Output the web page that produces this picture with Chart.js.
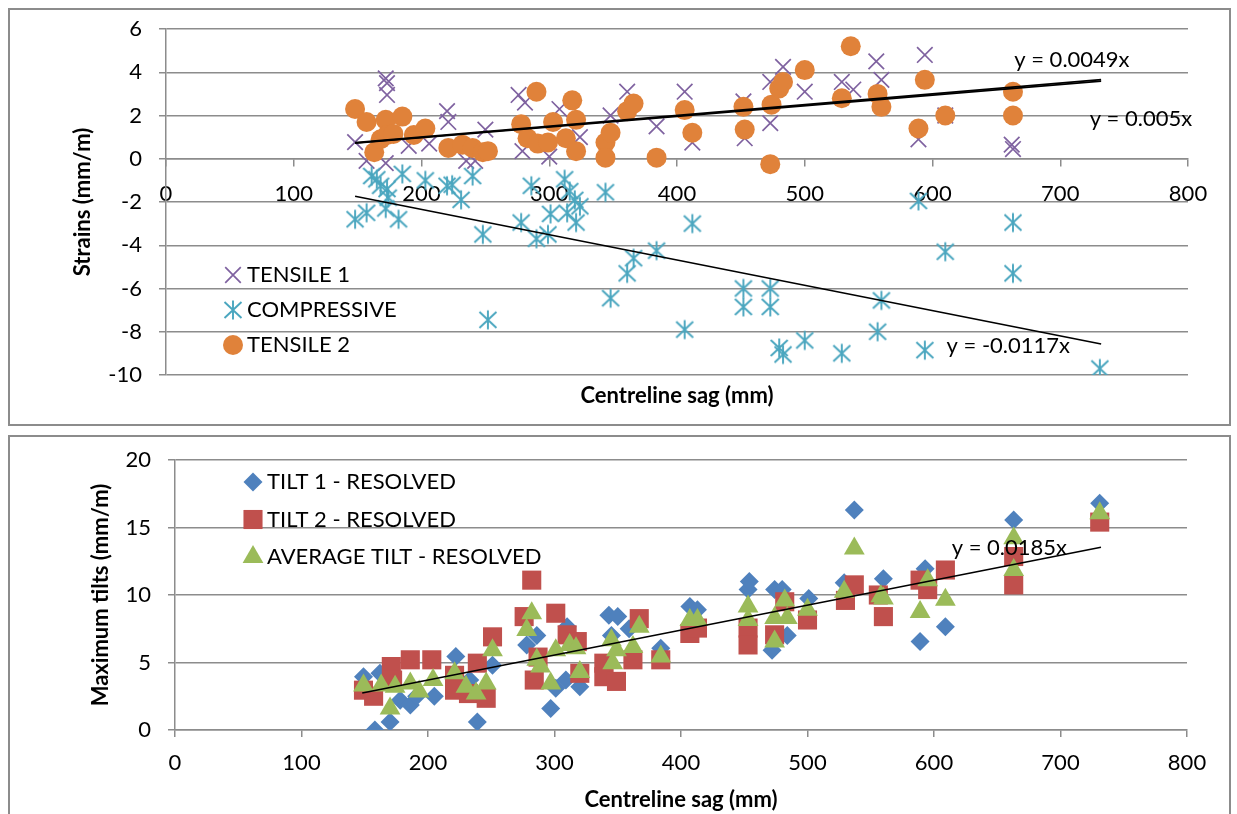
<!DOCTYPE html>
<html>
<head>
<meta charset="utf-8">
<title>Strains and tilts vs centreline sag</title>
<script src="https://cdn.jsdelivr.net/npm/chart.js@4.4.0/dist/chart.umd.min.js"></script>
<style>
    html, body { margin: 0; padding: 0; background: #fff; overflow: hidden; }
    .box { position: absolute; left: 8px; width: 1219px; border: 2px solid #8c8c8c; background: #fff; }
    #topBox { top: 8px; height: 414px; }
    #bottomBox { top: 435px; height: 378px; }
    canvas { display: block; }
</style>
</head>
<body>
<div class="box" id="topBox"><canvas id="strainChart" width="1219" height="414"></canvas></div>
<div class="box" id="bottomBox"><canvas id="tiltChart" width="1219" height="378"></canvas></div>

<script>
// ---------------- DATA: strains (top chart) ----------------
const tensile1Sag = [148, 157, 172, 173, 173, 172, 190, 206, 220, 221, 235, 242, 250, 276, 281, 279, 300, 308, 324,
    348, 361, 384, 406, 412, 452, 453, 473, 473, 483, 500, 529, 538, 556, 560, 589, 594, 610, 662, 663];
const tensile1Strain = [0.77, -0.1, 3.72, 3.5, 2.95, -0.2, 0.6, 0.7, 2.2, 1.7, -0.1, -0.1, 1.35, 2.95, 2.6, 0.35, 0.1, 2.3, 1.0,
    2.0, 3.1, 1.5, 3.1, 0.75, 2.65, 0.95, 3.55, 1.65, 4.25, 3.1, 3.55, 3.2, 4.5, 3.65, 0.9, 4.8, 2.0, 0.65, 0.45];

const compressiveSag = [148, 157, 161, 165, 168, 173, 174, 172, 182, 185, 203, 220, 224, 231, 240, 248, 252, 278, 286,
    290, 299, 301, 312, 314, 316, 320, 321, 324, 344, 348, 361, 366, 384, 406, 412, 452, 452, 473, 473, 480,
    483, 500, 529, 557, 560, 589, 594, 610, 663, 663, 731];
const compressiveStrain = [-2.8, -2.5, -0.8, -0.95, -1.25, -1.4, -1.8, -2.3, -2.8, -0.7, -1.0, -1.25, -1.2, -1.9, -0.8, -3.5, -7.45, -2.95, -1.25,
    -3.7, -3.5, -2.55, -0.95, -2.5, -1.5, -1.9, -2.95, -2.2, -1.55, -6.45, -5.3, -4.6, -4.25, -7.9, -3.0, -6.0, -6.85, -6.0, -6.85, -8.75,
    -9.05, -8.4, -9.0, -8.0, -6.55, -1.95, -8.85, -4.3, -2.95, -5.3, -9.7];

const tensile2Sag = [148, 157, 163, 168, 172, 173, 178, 185, 194, 203, 221, 232, 240, 248, 252, 278, 283, 290, 291,
    299, 303, 313, 318, 321, 321, 344, 344, 348, 361, 366, 384, 406, 412, 452, 453, 473, 474, 480, 483,
    500, 529, 536, 557, 560, 589, 594, 610, 663, 663];
const tensile2Strain = [2.3, 1.7, 0.3, 0.9, 1.8, 1.1, 1.15, 1.95, 1.1, 1.4, 0.5, 0.65, 0.5, 0.3, 0.35, 1.6, 0.95, 3.1, 0.7,
    0.75, 1.7, 0.95, 2.7, 1.8, 0.35, 0.75, 0.05, 1.2, 2.2, 2.55, 0.05, 2.25, 1.2, 2.4, 1.35, -0.25, 2.5, 3.25, 3.55,
    4.1, 2.8, 5.2, 3.0, 2.4, 1.4, 3.65, 2.0, 3.1, 2.0];

const strainSlopes = [0.0049, 0.005, -0.0117];
const strainLabels = ['y = 0.0049x', 'y = 0.005x', 'y = -0.0117x'];

// ---------------- DATA: tilts (bottom chart) ----------------
const tilt1Sag = [149, 158, 162, 170, 178, 186, 191, 205, 222, 233, 239, 251, 278, 286, 297, 301, 309, 310, 320,
    343, 345, 350, 359, 384, 407, 413, 453, 454, 472, 474, 480, 484, 501, 529, 537, 560, 589, 593, 609, 663, 731];
const tilt1Value = [3.95, 0.0, 4.2, 0.6, 2.2, 1.85, 2.5, 2.5, 5.45, 3.7, 0.6, 4.8, 6.3, 7.0, 1.6, 3.1, 3.7, 7.65, 3.2,
    8.5, 7.0, 8.4, 7.5, 6.05, 9.15, 8.9, 10.4, 11.0, 5.9, 10.4, 10.4, 7.0, 9.75, 10.9, 16.3, 11.2, 6.55, 11.95, 7.65, 15.55, 16.8];

const tilt2Sag = [149, 157, 171, 172, 186, 203, 221, 221, 232, 239, 246, 251, 276, 282, 284, 287, 301, 310, 318, 320,
    339, 339, 349, 362, 367, 384, 407, 413, 453, 453, 474, 482, 500, 530, 537, 556, 560, 589, 595, 609, 663, 663, 731];
const tilt2Value = [2.95, 2.5, 4.7, 3.7, 5.2, 5.2, 4.05, 2.95, 2.7, 4.95, 2.35, 6.9, 8.4, 11.1, 3.7, 5.4, 8.65, 7.05, 6.55, 4.2,
    4.95, 3.95, 3.6, 5.2, 8.25, 5.2, 7.15, 7.55, 7.55, 6.3, 7.05, 9.5, 8.15, 9.6, 10.75, 10.0, 8.4, 11.1, 10.4, 11.85, 12.85, 10.75, 15.4];

const avgTiltSag = [149, 163, 170, 174, 186, 193, 204, 221, 230, 238, 246, 251, 278, 282, 286, 289, 297, 301, 312, 317, 320,
    345, 346, 349, 362, 367, 384, 407, 413, 453, 453, 474, 474, 482, 484, 500, 529, 537, 558, 560, 589, 595, 609, 663, 663, 731];
const avgTiltValue = [3.3, 3.3, 1.6, 3.2, 3.45, 2.85, 3.7, 4.2, 3.2, 2.7, 3.45, 5.9, 7.4, 8.65, 5.2, 4.7, 3.45, 5.9, 6.3, 6.05, 4.3,
    6.65, 4.95, 5.9, 6.15, 7.65, 5.45, 8.15, 8.15, 9.15, 8.15, 6.55, 8.3, 9.6, 8.3, 8.9, 10.25, 13.45, 9.9, 9.75, 8.75, 11.1, 9.65, 14.2, 11.85, 16.05];

const tiltSlopes = [0.0185];
const tiltLabels = ['y = 0.0185x'];

// trendlines span the measured sag range
const trendFrom = 148;
const trendTo = 732;

/* ---------------- HELPERS ---------------- */
Chart.defaults.font.family = 'Lato, "Open Sans", sans-serif';
Chart.defaults.font.size = 22;
Chart.defaults.color = '#000';

const GRID = '#8c8c8c';

function toPoints(xs, ys) {
    return xs.map((x, i) => ({ x: x, y: ys[i] }));
}

function trendSet(k, width) {
    return {
        trend: true,
        data: [{ x: trendFrom, y: k * trendFrom }, { x: trendTo, y: k * trendTo }],
        showLine: true,
        borderColor: '#000',
        borderWidth: width,
        pointRadius: 0,
        order: 0
    };
}

// Excel style asterisk: X with a vertical bar
function makeAsterisk(color) {
    const c = document.createElement('canvas');
    c.width = 22;
    c.height = 22;
    const g = c.getContext('2d');
    g.strokeStyle = color;
    g.lineWidth = 1.9;
    g.beginPath();
    g.moveTo(2.5, 3); g.lineTo(19.5, 19);
    g.moveTo(19.5, 3); g.lineTo(2.5, 19);
    g.moveTo(11, 1.5); g.lineTo(11, 20.5);
    g.stroke();
    return c;
}

// y tick labels should not push the plot area down
function noLabelOverflow(scale) {
    scale.paddingTop = 0;
    scale.paddingBottom = 0;
}

/* ---------------- PLUGINS ---------------- */
const insideLegend = {
    id: 'insideLegend',
    afterDatasetsDraw(chart, args, opts) {
        const ctx = chart.ctx;
        ctx.save();
        ctx.font = '22px Lato, "Open Sans", sans-serif';
        ctx.textBaseline = 'middle';
        ctx.textAlign = 'left';
        chart.data.datasets.filter(d => !d.trend).forEach((d, i) => {
            const y = opts.y + i * opts.step;
            ctx.fillStyle = d.backgroundColor;
            ctx.strokeStyle = d.borderColor;
            ctx.lineWidth = d.borderWidth;
            Chart.helpers.drawPoint(ctx, {
                pointStyle: d.pointStyle,
                radius: d.pointRadius,
                borderWidth: d.borderWidth,
                rotation: 0
            }, opts.markerX, y);
            ctx.fillStyle = '#000';
            ctx.fillText(d.label, opts.textX, y);
        });
        ctx.restore();
    }
};

const trendLabels = {
    id: 'trendLabels',
    afterDatasetsDraw(chart, args, opts) {
        const ctx = chart.ctx;
        ctx.save();
        ctx.font = '22px Lato, "Open Sans", sans-serif';
        ctx.textBaseline = 'middle';
        ctx.textAlign = 'left';
        ctx.fillStyle = '#000';
        opts.items.forEach(it => {
            ctx.fillText(it.text, chart.scales.x.getPixelForValue(it.x), chart.scales.y.getPixelForValue(it.y));
        });
        ctx.restore();
    }
};

/* ---------------- STRAIN CHART ---------------- */
const strainChart = new Chart(document.getElementById('strainChart'), {
    type: 'scatter',
    data: {
        datasets: [
            {
                label: 'TENSILE 1',
                data: toPoints(tensile1Sag, tensile1Strain),
                pointStyle: 'crossRot',
                pointRadius: 11,
                borderColor: '#7f62a0',
                backgroundColor: '#7f62a0',
                borderWidth: 1.7,
                order: 3
            },
            {
                label: 'COMPRESSIVE',
                data: toPoints(compressiveSag, compressiveStrain),
                pointStyle: makeAsterisk('#4aa6bf'),
                pointRadius: 11,
                borderColor: '#4aa6bf',
                backgroundColor: '#4aa6bf',
                borderWidth: 1.9,
                order: 2
            },
            {
                label: 'TENSILE 2',
                data: toPoints(tensile2Sag, tensile2Strain),
                pointStyle: 'circle',
                pointRadius: 10,
                borderColor: '#e0823a',
                backgroundColor: '#e0823a',
                borderWidth: 0,
                order: 1
            },
            trendSet(strainSlopes[0], 1.8),
            trendSet(strainSlopes[1], 1.8),
            trendSet(strainSlopes[2], 1.6)
        ]
    },
    options: {
        responsive: false,
        animation: false,
        layout: { padding: { top: 19, right: 41, left: 0, bottom: 0 } },
        scales: {
            x: {
                type: 'linear',
                min: 0,
                max: 800,
                position: { y: 0 },
                ticks: { stepSize: 100, autoSkip: false, maxRotation: 0, padding: 15 },
                grid: { drawOnChartArea: false, drawTicks: true, tickLength: 7, color: GRID, lineWidth: 1.5 },
                border: { color: GRID, width: 1.5 }
            },
            y: {
                min: -10,
                max: 6,
                ticks: { stepSize: 2, padding: 17 },
                grid: { color: GRID, lineWidth: 1.5, tickLength: 7 },
                border: { color: GRID, width: 1.5 },
                title: {
                    display: true,
                    text: 'Strains (mm/m)',
                    font: { size: 22, weight: 'bold' },
                    padding: { top: 60, bottom: 0 }
                },
                afterFit(scale) {
                    scale.width = 156;
                    noLabelOverflow(scale);
                }
            }
        },
        plugins: {
            legend: { display: false },
            tooltip: { enabled: false },
            title: {
                display: true,
                position: 'bottom',
                fullSize: false,
                text: 'Centreline sag (mm)',
                font: { size: 22, weight: 'bold' },
                color: '#000',
                padding: { top: 8, bottom: 14.6 }
            },
            insideLegend: { markerX: 223, textX: 237, y: 265, step: 35 },
            trendLabels: {
                items: [
                    { text: strainLabels[0], x: 664, y: 4.56 },
                    { text: strainLabels[1], x: 723, y: 1.86 },
                    { text: strainLabels[2], x: 611, y: -8.65 }
                ]
            }
        }
    },
    plugins: [insideLegend, trendLabels]
});

/* ---------------- TILT CHART ---------------- */
const tiltChart = new Chart(document.getElementById('tiltChart'), {
    type: 'scatter',
    data: {
        datasets: [
            {
                label: 'TILT 1 - RESOLVED',
                data: toPoints(tilt1Sag, tilt1Value),
                pointStyle: 'rectRot',
                pointRadius: 9.5,
                borderColor: '#4f81bd',
                backgroundColor: '#4f81bd',
                borderWidth: 0,
                order: 3
            },
            {
                label: 'TILT 2 - RESOLVED',
                data: toPoints(tilt2Sag, tilt2Value),
                pointStyle: 'rect',
                pointRadius: 13.5,
                borderColor: '#c0504d',
                backgroundColor: '#c0504d',
                borderWidth: 0,
                order: 2
            },
            {
                label: 'AVERAGE TILT - RESOLVED',
                data: toPoints(avgTiltSag, avgTiltValue),
                pointStyle: 'triangle',
                pointRadius: 12,
                borderColor: '#9bbb59',
                backgroundColor: '#9bbb59',
                borderWidth: 0,
                order: 1
            },
            trendSet(tiltSlopes[0], 1.6)
        ]
    },
    options: {
        responsive: false,
        animation: false,
        layout: { padding: { top: 23, right: 42, left: 0, bottom: 0 } },
        scales: {
            x: {
                type: 'linear',
                min: 0,
                max: 800,
                ticks: { stepSize: 100, autoSkip: false, maxRotation: 0, padding: 13 },
                grid: { drawOnChartArea: false, drawTicks: true, tickLength: 7, color: GRID, lineWidth: 1.5 },
                border: { color: GRID, width: 1.5 },
                title: {
                    display: true,
                    text: 'Centreline sag (mm)',
                    font: { size: 22, weight: 'bold' },
                    padding: { top: 0, bottom: 2 }
                },
                afterFit(scale) { scale.height = 85; }
            },
            y: {
                min: 0,
                max: 20,
                ticks: { stepSize: 5, padding: 17 },
                grid: { color: GRID, lineWidth: 1.5, tickLength: 7 },
                border: { color: GRID, width: 1.5 },
                title: {
                    display: true,
                    text: 'Maximum tilts (mm/m)',
                    font: { size: 22, weight: 'bold' },
                    padding: { top: 78, bottom: 0 }
                },
                afterFit(scale) {
                    scale.width = 165;
                    noLabelOverflow(scale);
                }
            }
        },
        plugins: {
            legend: { display: false },
            tooltip: { enabled: false },
            insideLegend: { markerX: 243, textX: 257, y: 45, step: 37.5 },
            trendLabels: {
                items: [
                    { text: tiltLabels[0], x: 614, y: 13.5 }
                ]
            }
        }
    },
    plugins: [insideLegend, trendLabels]
});
</script>
</body>
</html>
